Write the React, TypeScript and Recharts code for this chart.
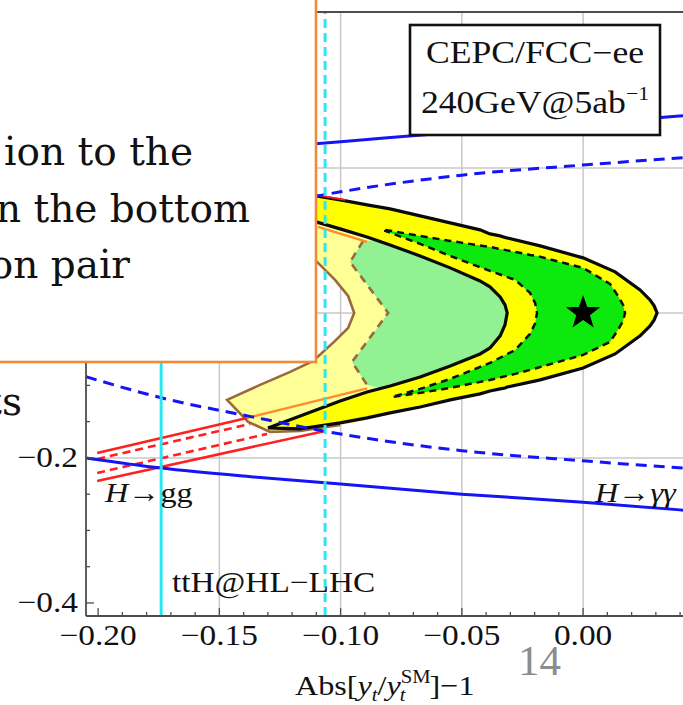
import React from "react";
import { ComposedChart, XAxis, YAxis, Line, Area, Scatter, ReferenceLine, CartesianGrid } from "recharts";

// axes
const X_DOMAIN: [number, number] = [-0.205, 0.0412];
const Y_DOMAIN: [number, number] = [-0.418, 0.415];

const xMajorTicks = [-0.2, -0.15, -0.1, -0.05, 0];
const xMajorLabels = ["−0.20", "−0.15", "−0.10", "−0.05", "0.00"];
const xMinorTicks = [
  -0.2, -0.19, -0.18, -0.17, -0.16, -0.15, -0.14, -0.13, -0.12, -0.11, -0.1, -0.09, -0.08,
  -0.07, -0.06, -0.05, -0.04, -0.03, -0.02, -0.01, 0, 0.01, 0.02, 0.03, 0.04,
];
// labels above -0.2 sit under the slide's text box, so they are not shown
const yMajorTicks = [-0.4, -0.2, 0, 0.2, 0.4];
const yMajorLabels = ["−0.4", "−0.2", "", "", ""];
const yMinorTicks = [-0.4, -0.35, -0.3, -0.25, -0.2, -0.15, -0.1, -0.05, 0, 0.05, 0.1, 0.15, 0.2, 0.25, 0.3, 0.35, 0.4];
const gridX = [-0.15, -0.1, -0.05, 0];
const gridY = [-0.2, 0, 0.2];

// H -> gamma gamma bounds
const hyyX = [-0.205, -0.174, -0.137, -0.1, -0.05, 0, 0.0412];
const hyySolidUpper = [0.2, 0.214, 0.226, 0.236, 0.25, 0.261, 0.272];
const hyySolidLower = [-0.2, -0.214, -0.226, -0.236, -0.25, -0.261, -0.272];
const hyyDashedUpper = [0.088, 0.117, 0.143, 0.167, 0.19, 0.204, 0.214];
const hyyDashedLower = [-0.088, -0.117, -0.143, -0.167, -0.19, -0.204, -0.214];

// ttH @ HL-LHC
const tthSolidX = -0.174;
const tthDashedX = -0.1064;

// H -> gg band pieces
const hggUpperSolid = [[-0.2004, -0.1931], [-0.1386, -0.1448]];
const hggUpperInside = [[-0.1386, -0.1448], [-0.1126, -0.1233], [-0.0891, -0.1041]];
const hggUpperDashed = [[-0.2004, -0.2014], [-0.1373, -0.1531]];
const hggLowerDashed = [[-0.2004, -0.2207], [-0.1303, -0.1669]];
const hggLowerSolid = [[-0.2004, -0.2317], [-0.1064, -0.1628]];
const hggTopOuter = [[-0.1101, 0.1628], [-0.0981, 0.1559]];
const hggTopInner = [[-0.1093, 0.1186], [-0.0891, 0.0979]];

// CEPC region (bright), upper and lower halves
const brightUpX = [-0.1456, -0.1291, -0.1101, -0.1002, -0.0891, -0.0796, -0.0672, -0.0548, -0.0425, -0.0384, -0.0342, -0.0322, -0.0313, -0.0177, 0, 0.0132, 0.0235, 0.0276, 0.0293, 0.0305];
const brightUpHi = [0.1807, 0.171, 0.1614, 0.1559, 0.149, 0.1434, 0.1338, 0.1241, 0.1145, 0.109, 0.1062, 0.1041, 0.1034, 0.0924, 0.0759, 0.0566, 0.0317, 0.0179, 0.0097, 0];
const brightUpLo = [0.1517, 0.1393, 0.1255, 0.1159, 0.1048, 0.0938, 0.0786, 0.0621, 0.0441, 0.0359, 0.0221, 0.011, 0, 0, 0, 0, 0, 0, 0, 0];
const brightDnX = [-0.1299, -0.1167, -0.1002, -0.0891, -0.0796, -0.0672, -0.0548, -0.0425, -0.0384, -0.0342, -0.0322, -0.0313, -0.0177, 0, 0.0132, 0.0235, 0.0276, 0.0293, 0.0305];
const brightDnLo = [-0.1586, -0.16, -0.1517, -0.1448, -0.1379, -0.1297, -0.12, -0.1117, -0.1076, -0.1048, -0.1035, -0.1021, -0.0924, -0.0759, -0.0566, -0.0317, -0.0179, -0.0097, 0];
const brightDnHi = [-0.1586, -0.1421, -0.1214, -0.109, -0.1007, -0.0883, -0.0731, -0.0566, -0.0483, -0.0317, -0.0165, 0, 0, 0, 0, 0, 0, 0, 0];

const greenUpX = [-0.0816, -0.0672, -0.0548, -0.0384, -0.028, -0.0219, -0.0198, -0.019, 0, 0.0111, 0.0144, 0.0165, 0.0173];
const greenUpHi = [0.1145, 0.1062, 0.0993, 0.091, 0.0841, 0.08, 0.079, 0.0786, 0.0621, 0.04, 0.0234, 0.011, 0];
const greenUpLo = [0.1131, 0.0952, 0.0786, 0.0579, 0.0455, 0.0276, 0.0138, 0, 0, 0, 0, 0, 0];
const greenDnX = [-0.0788, -0.0672, -0.0548, -0.0384, -0.028, -0.0219, -0.0198, -0.019, 0, 0.0111, 0.0144, 0.0165, 0.0173];
const greenDnLo = [-0.1159, -0.1103, -0.1034, -0.0924, -0.0841, -0.0786, -0.0766, -0.0759, -0.0579, -0.04, -0.0234, -0.011, 0];
const greenDnHi = [-0.1159, -0.1048, -0.091, -0.069, -0.051, -0.029, -0.0145, 0, 0, 0, 0, 0, 0];

// HL-LHC region (light)
const lightUpX = [-0.1456, -0.1249, -0.1093, -0.1023, -0.0969, -0.0944, -0.0796, -0.0548, -0.0313, 0, 0.0235, 0.0305];
const lightUpHi = [0.1807, 0.1697, 0.16, 0.1572, 0.1531, 0.1517, 0.1434, 0.1241, 0.1034, 0.0759, 0.0317, 0];
const lightUpLo = [0.1559, 0.1145, 0.069, 0.0455, 0.0234, 0, 0, 0, 0, 0, 0, 0];
const lightDnX = [-0.1468, -0.1381, -0.1332, -0.1291, -0.1208, -0.1167, -0.1113, -0.1023, -0.1002, -0.0969, -0.0944, -0.0796, -0.0548, -0.0313, 0, 0.0235, 0.0305];
const lightDnLo = [-0.12, -0.1503, -0.1572, -0.1641, -0.1641, -0.1628, -0.1614, -0.1559, -0.1545, -0.1531, -0.1517, -0.1393, -0.1214, -0.1034, -0.0759, -0.0317, 0];
const lightDnHi = [-0.12, -0.1076, -0.0993, -0.0938, -0.0814, -0.0745, -0.0662, -0.0386, -0.0317, -0.0207, 0, 0, 0, 0, 0, 0, 0];

const lgUpX = [-0.0961, -0.0907, -0.0804, -0.0672, -0.0425, -0.0177];
const lgUpHi = [0.0703, 0.0993, 0.1007, 0.0869, 0.0593, 0.0317];
const lgUpLo = [0.0703, 0.0469, 0, 0, 0, 0];
const lgDnX = [-0.0953, -0.0891, -0.0804, -0.0672, -0.0425, -0.0177];
const lgDnLo = [-0.0676, -0.0993, -0.1062, -0.0993, -0.0717, -0.0234];
const lgDnHi = [-0.0676, -0.04, 0, 0, 0, 0];

const brownSolid = [
  [-0.1249, 0.1145], [-0.1093, 0.069], [-0.1023, 0.0455], [-0.0969, 0.0234], [-0.0944, 0],
  [-0.0969, -0.0207], [-0.1023, -0.0386], [-0.1113, -0.0662], [-0.1208, -0.0814], [-0.1332, -0.0993],
  [-0.1468, -0.12], [-0.1381, -0.1503], [-0.1291, -0.1641], [-0.1167, -0.1628], [-0.1002, -0.1545],
];
const brownDashed = [[-0.0907, 0.0993], [-0.0961, 0.0703], [-0.0804, 0], [-0.0953, -0.0676], [-0.0891, -0.0993]];

const smPoint = [{ x: 0, y: 0 }];

const FRAME = "#4d4d4d";
const GRID = "#c8c8c8";
const SERIF = "'Liberation Serif', 'Times New Roman', serif";

const pts = (a: number[][]) => a.map(([x, y]) => ({ x, y }));
const rows = (xs: number[], lo: number[], hi: number[]) => xs.map((x, i) => ({ x, r: [lo[i], hi[i]] }));
const curve = (xs: number[], ys: number[]) => xs.map((x, i) => ({ x, y: ys[i] }));

function outline(uX: number[], uLo: number[], uHi: number[], dX: number[], dLo: number[], dHi: number[], close: boolean) {
  const out: { x: number; y: number }[] = [];
  uX.forEach((x, i) => out.push({ x, y: uHi[i] }));
  for (let i = dX.length - 1; i >= 0; i--) out.push({ x: dX[i], y: dLo[i] });
  for (let i = 0; i < dX.length; i++) {
    out.push({ x: dX[i], y: dHi[i] });
    if (dHi[i] === 0) break;
  }
  const k = uLo.findIndex((v) => v === 0);
  for (let i = k; i >= 0; i--) out.push({ x: uX[i], y: uLo[i] });
  if (close) out.push({ x: uX[0], y: uHi[0] });
  return out;
}

const brightOutline = outline(brightUpX, brightUpLo, brightUpHi, brightDnX, brightDnLo, brightDnHi, false);
const greenOutline = outline(greenUpX, greenUpLo, greenUpHi, greenDnX, greenDnLo, greenDnHi, true);

const near = (a: number[], v: number) => a.findIndex((m) => Math.abs(m - v) < 1e-9);

function BottomTick(props: any) {
  const { x, y, payload } = props;
  const i = near(xMajorTicks, payload.value);
  return (
    <g>
      <line x1={x} x2={x} y1={y} y2={y - (i >= 0 ? 8 : 4)} stroke={FRAME} strokeWidth={1.3} />
      {i >= 0 && (
        <text transform={`translate(${x},${y + 29}) scale(1.15,1)`} textAnchor="middle" fontFamily={SERIF} fontSize={29} fill="#111">
          {xMajorLabels[i]}
        </text>
      )}
    </g>
  );
}

function TopTick(props: any) {
  const { x, y, payload } = props;
  const i = near(xMajorTicks, payload.value);
  return <line x1={x} x2={x} y1={y} y2={y + (i >= 0 ? 8 : 4)} stroke={FRAME} strokeWidth={1.3} />;
}

function LeftTick(props: any) {
  const { x, y, payload } = props;
  const i = near(yMajorTicks, payload.value);
  return (
    <g>
      <line x1={x} x2={x + (i >= 0 ? 8 : 4)} y1={y} y2={y} stroke={FRAME} strokeWidth={1.3} />
      {i >= 0 && yMajorLabels[i] !== "" && (
        <text transform={`translate(${x - 8},${y + 9}) scale(1.15,1)`} textAnchor="end" fontFamily={SERIF} fontSize={29} fill="#111">
          {yMajorLabels[i]}
        </text>
      )}
    </g>
  );
}

const starShape = (p: any) => {
  const { cx, cy } = p;
  const R = 18;
  const r = 7.2;
  const v: string[] = [];
  for (let k = 0; k < 10; k++) {
    const a = -Math.PI / 2 + (k * Math.PI) / 5;
    const rr = k % 2 === 0 ? R : r;
    v.push(`${cx + rr * Math.cos(a)},${cy + rr * Math.sin(a)}`);
  }
  return <polygon points={v.join(" ")} fill="#000" />;
};

const noDots = { dot: false, activeDot: false, isAnimationActive: false } as const;

export default function App() {
  return (
    <div style={{ position: "absolute", left: 0, top: 0, width: 683, height: 705, overflow: "hidden", background: "#fff" }}>
      <ComposedChart width={683} height={705} margin={{ top: 0, right: 0, bottom: 0, left: 0 }}>
        <CartesianGrid horizontalValues={gridY} verticalValues={gridX} stroke={GRID} strokeWidth={1.5} fill="none" />
        <XAxis
          type="number"
          dataKey="x"
          domain={X_DOMAIN}
          allowDataOverflow
          ticks={xMinorTicks}
          interval={0}
          tick={(p: any) => <BottomTick {...p} />}
          tickLine={false}
          tickSize={0}
          tickMargin={0}
          height={89}
          axisLine={{ stroke: FRAME, strokeWidth: 1.8 }}
        />
        <XAxis
          xAxisId="top"
          orientation="top"
          type="number"
          domain={X_DOMAIN}
          allowDataOverflow
          ticks={xMinorTicks}
          interval={0}
          tick={(p: any) => <TopTick {...p} />}
          tickLine={false}
          tickSize={0}
          tickMargin={0}
          height={12}
          axisLine={{ stroke: FRAME, strokeWidth: 1.8 }}
        />
        <YAxis
          type="number"
          domain={Y_DOMAIN}
          allowDataOverflow
          ticks={yMinorTicks}
          interval={0}
          tick={(p: any) => <LeftTick {...p} />}
          tickLine={false}
          tickSize={0}
          tickMargin={0}
          width={86}
          axisLine={{ stroke: FRAME, strokeWidth: 1.8 }}
        />

        {/* HL-LHC region */}
        <Area data={rows(lightUpX, lightUpLo, lightUpHi)} dataKey="r" type="linear" stroke="none" fill="#FFFF98" fillOpacity={1} {...noDots} />
        <Area data={rows(lightDnX, lightDnLo, lightDnHi)} dataKey="r" type="linear" stroke="none" fill="#FFFF98" fillOpacity={1} {...noDots} />
        <Area data={rows(lgUpX, lgUpLo, lgUpHi)} dataKey="r" type="linear" stroke="none" fill="#92F192" fillOpacity={1} {...noDots} />
        <Area data={rows(lgDnX, lgDnLo, lgDnHi)} dataKey="r" type="linear" stroke="none" fill="#92F192" fillOpacity={1} {...noDots} />
        <Line data={pts(brownSolid)} dataKey="y" type="linear" stroke="#9A6A3A" strokeWidth={2.6} {...noDots} />
        <Line data={pts(brownDashed)} dataKey="y" type="linear" stroke="#9A6A3A" strokeWidth={2.6} strokeDasharray="8 6" {...noDots} />

        {/* CEPC region */}
        <Area data={rows(brightUpX, brightUpLo, brightUpHi)} dataKey="r" type="linear" stroke="none" fill="#FFFF00" fillOpacity={1} {...noDots} />
        <Area data={rows(brightDnX, brightDnLo, brightDnHi)} dataKey="r" type="linear" stroke="none" fill="#FFFF00" fillOpacity={1} {...noDots} />
        <Area data={rows(greenUpX, greenUpLo, greenUpHi)} dataKey="r" type="linear" stroke="none" fill="#0DE80D" fillOpacity={1} {...noDots} />
        <Area data={rows(greenDnX, greenDnLo, greenDnHi)} dataKey="r" type="linear" stroke="none" fill="#0DE80D" fillOpacity={1} {...noDots} />
        <Line data={greenOutline} dataKey="y" type="linear" stroke="#111" strokeWidth={2.5} strokeDasharray="7 5" {...noDots} />
        <Line data={brightOutline} dataKey="y" type="linear" stroke="#0a0a0a" strokeWidth={3.2} {...noDots} />

        {/* H -> gg */}
        <Line data={pts(hggUpperSolid)} dataKey="y" type="linear" stroke="#FF2020" strokeWidth={2.6} {...noDots} />
        <Line data={pts(hggUpperInside)} dataKey="y" type="linear" stroke="#FF8C28" strokeWidth={2.4} {...noDots} />
        <Line data={pts(hggUpperDashed)} dataKey="y" type="linear" stroke="#FF2020" strokeWidth={2.6} strokeDasharray="8 5" {...noDots} />
        <Line data={pts(hggLowerDashed)} dataKey="y" type="linear" stroke="#FF2020" strokeWidth={2.6} strokeDasharray="8 5" {...noDots} />
        <Line data={pts(hggLowerSolid)} dataKey="y" type="linear" stroke="#FF2020" strokeWidth={2.6} {...noDots} />
        <Line data={pts(hggTopOuter)} dataKey="y" type="linear" stroke="#FF2020" strokeWidth={2} {...noDots} />
        <Line data={pts(hggTopInner)} dataKey="y" type="linear" stroke="#FF8C28" strokeWidth={2.4} {...noDots} />

        {/* H -> gamma gamma */}
        <Line data={curve(hyyX, hyySolidUpper)} dataKey="y" type="monotone" stroke="#1414F5" strokeWidth={3} {...noDots} />
        <Line data={curve(hyyX, hyySolidLower)} dataKey="y" type="monotone" stroke="#1414F5" strokeWidth={3} {...noDots} />
        <Line data={curve(hyyX, hyyDashedUpper)} dataKey="y" type="monotone" stroke="#1414F5" strokeWidth={3} strokeDasharray="11 7" {...noDots} />
        <Line data={curve(hyyX, hyyDashedLower)} dataKey="y" type="monotone" stroke="#1414F5" strokeWidth={3} strokeDasharray="11 7" {...noDots} />

        {/* ttH */}
        <ReferenceLine x={tthSolidX} stroke="#2DE6F2" strokeWidth={3} />
        <ReferenceLine x={tthDashedX} stroke="#2DE6F2" strokeWidth={3} strokeDasharray="9 5" />

        <Scatter data={smPoint} dataKey="y" shape={starShape} isAnimationActive={false} />
      </ComposedChart>

      <svg width={683} height={705} style={{ position: "absolute", left: 0, top: 0, pointerEvents: "none" }}>
        <text transform="translate(105,502) scale(1.15,1)" fontFamily={SERIF} fontSize={28} fill="#111">
          <tspan fontStyle="italic">H</tspan>→gg
        </text>
        <text transform="translate(595,502) scale(1.15,1)" fontFamily={SERIF} fontSize={28} fill="#111">
          <tspan fontStyle="italic">H</tspan>→<tspan fontStyle="italic">γγ</tspan>
        </text>
        <text transform="translate(172,592) scale(1.15,1)" fontFamily={SERIF} fontSize={29} fill="#111">
          ttH@HL−LHC
        </text>

        <rect x={410} y={25} width={250} height={110} fill="#fff" stroke="#111" strokeWidth={2.6} />
        <text transform="translate(535,63) scale(1.15,1)" textAnchor="middle" fontFamily={SERIF} fontSize={31} fill="#111">
          CEPC/FCC−ee
        </text>
        <text transform="translate(535,113) scale(1.15,1)" textAnchor="middle" fontFamily={SERIF} fontSize={31} fill="#111">
          240GeV@5ab<tspan fontSize={19} dy={-13}>−1</tspan>
        </text>

        <text transform="translate(295,695) scale(1.15,1)" fontFamily={SERIF} fontSize={28} fill="#111">
          Abs[<tspan fontStyle="italic">y</tspan>
          <tspan fontStyle="italic" fontSize={18} dy={6}>t</tspan>
          <tspan dy={-6}>/</tspan>
          <tspan fontStyle="italic">y</tspan>
          <tspan fontSize={18} dy={-12}>SM</tspan>
          <tspan fontStyle="italic" fontSize={18} dx={-27} dy={18}>t</tspan>
          <tspan dx={21} dy={-6}>]−1</tspan>
        </text>

        <text x={518} y={675} fontFamily={SERIF} fontSize={43} fill="#8c8c8c">14</text>
        <text x={22} y={415} textAnchor="end" fontFamily="'DejaVu Serif', serif" fontSize={39} fill="#111">ts</text>

        <rect x={-10} y={-10} width={326} height={372} fill="#fff" stroke="#EE8A3C" strokeWidth={2.6} />
        <text x={193} y={165} textAnchor="end" fontFamily="'DejaVu Serif', serif" fontSize={39} fill="#111">ion to the</text>
        <text x={250} y={222} textAnchor="end" fontFamily="'DejaVu Serif', serif" fontSize={39} fill="#111">n the bottom</text>
        <text x={130} y={278} textAnchor="end" fontFamily="'DejaVu Serif', serif" fontSize={39} fill="#111">on pair</text>
      </svg>
    </div>
  );
}
